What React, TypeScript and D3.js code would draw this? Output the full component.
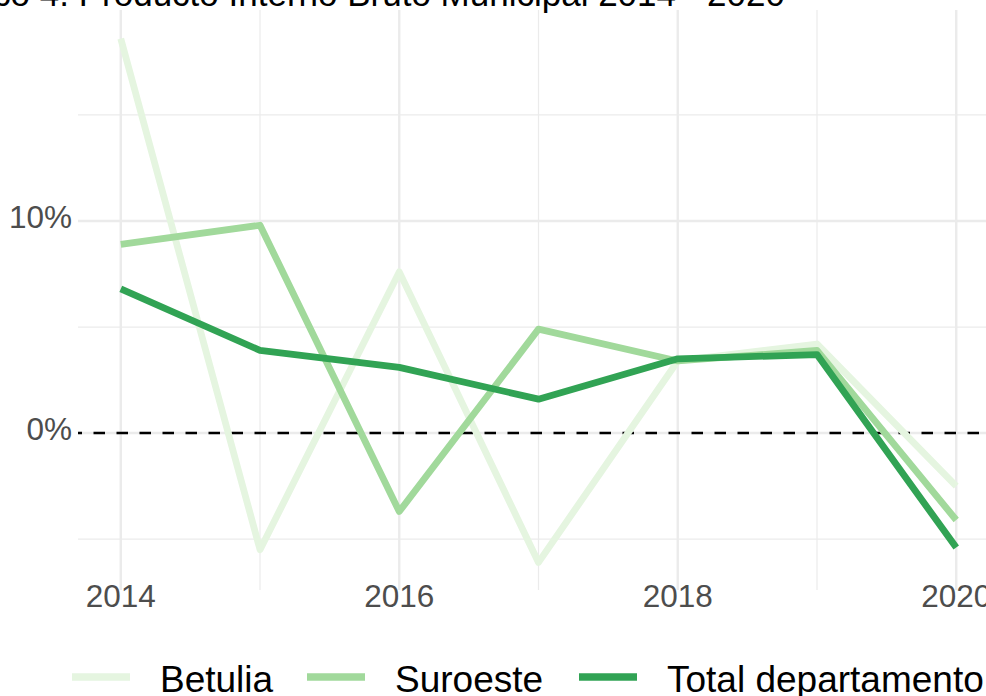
import React, { useEffect, useRef } from 'react';
import * as d3 from 'd3';

const years = [2014, 2015, 2016, 2017, 2018, 2019, 2020];
const betulia = [18.6, -5.5, 7.6, -6.1, 3.4, 4.2, -2.5];
const suroeste = [8.9, 9.8, -3.7, 4.9, 3.4, 3.9, -4.1];
const total = [6.8, 3.9, 3.1, 1.6, 3.5, 3.7, -5.4];
const seriesNames = ['Betulia', 'Suroeste', 'Total departamento'];
const seriesColors = ['#e5f5e0', '#a1d99b', '#31a354'];
const xMajor = [2014, 2016, 2018, 2020];
const xMinor = [2015, 2017, 2019];
const yMajor = [0, 10];
const yMinor = [-5, 5, 15];
const title = 'Gráfico 4. Producto Interno Bruto Municipal 2014 - 2020';

const W = 986;
const H = 696;
const font = '"Liberation Sans", Arial, Helvetica, sans-serif';

export default function App() {
  const ref = useRef<SVGSVGElement>(null);

  useEffect(() => {
    const svg = d3.select(ref.current);
    svg.selectAll('*').remove();

    const panel = { left: 78, right: 998, top: 10, bottom: 590 };
    const x = d3.scaleLinear().domain([2013.7, 2020.3]).range([79, 998]);
    const y = d3.scaleLinear().domain([-7.4, 19.95]).range([panel.bottom, panel.top]);

    svg.append('rect').attr('width', W).attr('height', H).attr('fill', '#fff');

    const grid = svg.append('g').attr('stroke', '#ebebeb').attr('fill', 'none');
    grid.selectAll('line.ymin').data(yMinor).join('line')
      .attr('x1', panel.left).attr('x2', panel.right)
      .attr('y1', (d) => y(d)).attr('y2', (d) => y(d))
      .attr('stroke-width', 1.2);
    grid.selectAll('line.xmin').data(xMinor).join('line')
      .attr('y1', panel.top).attr('y2', panel.bottom)
      .attr('x1', (d) => x(d)).attr('x2', (d) => x(d))
      .attr('stroke-width', 1.2);
    grid.selectAll('line.ymaj').data(yMajor).join('line')
      .attr('x1', panel.left).attr('x2', panel.right)
      .attr('y1', (d) => y(d)).attr('y2', (d) => y(d))
      .attr('stroke-width', 2.4);
    grid.selectAll('line.xmaj').data(xMajor).join('line')
      .attr('y1', panel.top).attr('y2', panel.bottom)
      .attr('x1', (d) => x(d)).attr('x2', (d) => x(d))
      .attr('stroke-width', 2.4);

    // reference line at 0
    svg.append('line')
      .attr('x1', panel.left).attr('x2', panel.right)
      .attr('y1', y(0)).attr('y2', y(0))
      .attr('stroke', '#000').attr('stroke-width', 2.6)
      .attr('stroke-dasharray', '11.5 11.5').attr('stroke-dashoffset', 7.5);

    const data = [betulia, suroeste, total];
    const line = d3.line<number>().x((_, i) => x(years[i])).y((d) => y(d));
    svg.append('g').selectAll('path').data(data).join('path')
      .attr('d', (d) => line(d))
      .attr('fill', 'none')
      .attr('stroke', (_, i) => seriesColors[i])
      .attr('stroke-width', 6.8)
      .attr('stroke-linejoin', 'round')
      .attr('stroke-linecap', 'butt');

    // axis labels
    svg.append('g').selectAll('text').data(yMajor).join('text')
      .attr('x', 72).attr('y', (d) => y(d) - 4)
      .attr('dy', '0.36em')
      .attr('text-anchor', 'end')
      .attr('font-family', font).attr('font-size', 31.5).attr('fill', '#4d4d4d')
      .text((d) => `${d}%`);
    svg.append('g').selectAll('text').data(xMajor).join('text')
      .attr('x', (d) => x(d)).attr('y', 607)
      .attr('text-anchor', 'middle')
      .attr('font-family', font).attr('font-size', 31.5).attr('fill', '#4d4d4d')
      .text((d) => d);

    // title, cut by the top edge
    svg.append('text')
      .attr('x', 785).attr('y', 6)
      .attr('text-anchor', 'end')
      .attr('font-family', font).attr('font-size', 35).attr('fill', '#000')
      .text(title);

    // legend
    const keyX = [72, 307, 579];
    const leg = svg.append('g').selectAll('g').data(seriesNames).join('g')
      .attr('transform', (_, i) => `translate(${keyX[i]},677)`);
    leg.append('line')
      .attr('x1', 0).attr('x2', 58).attr('y1', 0).attr('y2', 0)
      .attr('stroke', (_, i) => seriesColors[i]).attr('stroke-width', 7.5);
    leg.append('text')
      .attr('x', 88).attr('y', 15)
      .attr('font-family', font).attr('font-size', 37).attr('fill', '#000')
      .text((d) => d);
  }, []);

  return (
    <svg
      ref={ref}
      width={W}
      height={H}
      style={{ position: 'absolute', left: 0, top: 0, display: 'block' }}
    />
  );
}
